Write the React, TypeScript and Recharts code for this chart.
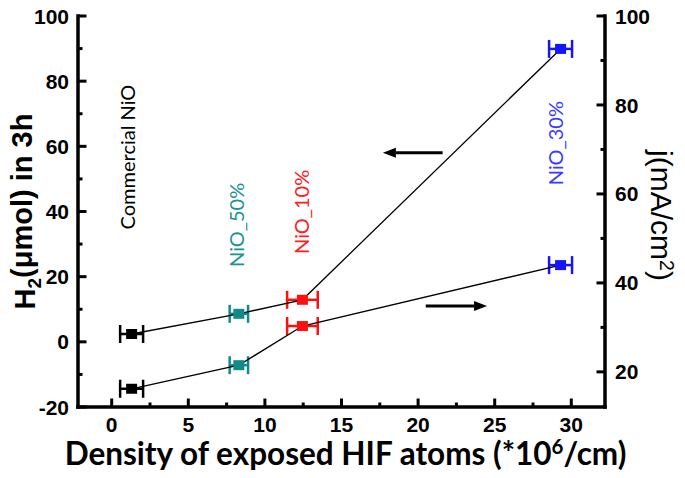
import {
  ComposedChart,
  XAxis,
  YAxis,
  Scatter,
  ErrorBar,
  ReferenceDot,
  ReferenceLine,
  Label,
} from "recharts";

const samples = ["Commercial NiO", "NiO_50%", "NiO_10%", "NiO_30%"];
const density = [1.3, 8.3, 12.45, 29.3];
const densityErr = [0.75, 0.6, 1.0, 0.75];
const h2 = [2.4, 8.6, 12.9, 89.9];
const currentJ = [16.2, 21.5, 30.3, 44.0];

const xTicks = [0, 2.5, 5, 7.5, 10, 12.5, 15, 17.5, 20, 22.5, 25, 27.5, 30];
const leftTicks = [-20, -10, 0, 10, 20, 30, 40, 50, 60, 70, 80, 90, 100];
const rightTicks = [20, 30, 40, 50, 60, 70, 80, 90, 100];

// where the sample names sit (x, H2 value)
const labelX = [1.05, 8.15, 12.45, 29.0];
const labelY = [56.7, 35.9, 39.9, 61];

const colors = ["#000000", "#108a8a", "#ff1010", "#1414ff"];
const labelColors = ["#000000", "#199494", "#ff2020", "#3c3cff"];

const M = 8;
const tickFont = { fontFamily: "Liberation Sans, Arial", fontWeight: 700, fontSize: 21 };

const h2Data = density.map((x, i) => ({ x, y: h2[i], ex: densityErr[i] }));
const jData = density.map((x, i) => ({ x, y: currentJ[i], ex: densityErr[i] }));

function LeftTick(p: any) {
  const ax = p.x + M;
  const v = p.payload.value;
  const major = v % 20 === 0;
  return (
    <g>
      <line x1={ax} x2={ax + (major ? 8.5 : 4.5)} y1={p.y} y2={p.y} stroke="#000" strokeWidth={3} />
      {major && (
        <text x={ax - 9} y={p.y} dy="0.36em" textAnchor="end" {...tickFont}>
          {v}
        </text>
      )}
    </g>
  );
}

function RightTick(p: any) {
  const ax = p.x - M;
  const v = p.payload.value;
  const major = v % 20 === 0;
  return (
    <g>
      <line x1={ax} x2={ax - (major ? 8.5 : 4.5)} y1={p.y} y2={p.y} stroke="#000" strokeWidth={3} />
      {major && (
        <text x={ax + 10} y={p.y} dy="0.36em" textAnchor="start" {...tickFont}>
          {v}
        </text>
      )}
    </g>
  );
}

function BottomTick(p: any) {
  const ay = p.y - M;
  const v = p.payload.value;
  const major = v % 5 === 0;
  return (
    <g>
      <line x1={p.x} x2={p.x} y1={ay} y2={ay - (major ? 8.5 : 4.5)} stroke="#000" strokeWidth={3} />
      {major && (
        <text x={p.x} y={ay + 25} textAnchor="middle" {...tickFont}>
          {v}
        </text>
      )}
    </g>
  );
}

function Square(color: string) {
  return (p: any) => <rect x={p.cx - 5.5} y={p.cy - 5} width={11} height={10} fill={color} />;
}

function Arrow(p: any) {
  const { x1, y1, x2, y2 } = p;
  const dir = x2 > x1 ? 1 : -1;
  const hx = x2 - dir * 13;
  return (
    <g>
      <line x1={x1} y1={y1} x2={hx} y2={y2} stroke="#000" strokeWidth={3} />
      <polygon points={`${x2},${y2} ${hx},${y2 - 5} ${hx},${y2 + 5}`} fill="#000" />
    </g>
  );
}

export default function App() {
  return (
    <div style={{ position: "absolute", left: 0, top: 0 }}>
      <ComposedChart width={685} height={478} margin={{ top: 16, right: 0, bottom: 0, left: 0 }}>
        <XAxis
          xAxisId="top"
          orientation="top"
          type="number"
          domain={[0, 1]}
          height={0}
          tick={false}
          tickLine={false}
          axisLine={{ stroke: "#000", strokeWidth: 3.5 }}
        />
        <XAxis
          dataKey="x"
          type="number"
          domain={[-2.2, 32.2]}
          allowDataOverflow
          ticks={xTicks}
          interval={0}
          height={71}
          tickSize={0}
          tickMargin={M}
          tickLine={false}
          tick={(p: any) => <BottomTick {...p} />}
          axisLine={{ stroke: "#000", strokeWidth: 3.5, strokeLinecap: "square" }}
        >
          <Label
            content={(p: any) => {
              const vb = p.viewBox;
              return (
                <text
                  x={vb.x + vb.width / 2 + 4}
                  y={vb.y + 58}
                  textAnchor="middle"
                  fontFamily="Lato"
                  fontWeight={700}
                  fontSize={31.5}
                  fill="#000"
                >
                  Density of exposed HIF atoms (*10
                  <tspan fontSize="0.65em" dy="-0.55em">6</tspan>
                  <tspan dy="0.36em">/cm)</tspan>
                </text>
              );
            }}
          />
        </XAxis>
        <YAxis
          yAxisId="left"
          dataKey="y"
          type="number"
          domain={[-20, 100]}
          allowDataOverflow
          ticks={leftTicks}
          interval={0}
          width={78}
          tickSize={0}
          tickMargin={M}
          tickLine={false}
          tick={(p: any) => <LeftTick {...p} />}
          axisLine={{ stroke: "#000", strokeWidth: 3.5, strokeLinecap: "square" }}
        >
          <Label
            content={(p: any) => {
              const vb = p.viewBox;
              const cx = 25;
              const cy = vb.y + vb.height / 2;
              return (
                <text
                  x={cx}
                  y={cy}
                  transform={`rotate(-90 ${cx} ${cy})`}
                  dy="0.35em"
                  textAnchor="middle"
                  fontFamily="Liberation Sans, Arial"
                  fontWeight={700}
                  fontSize={29}
                  fill="#000"
                >
                  H<tspan fontSize="0.65em" dy="0.3em">2</tspan>
                  <tspan dy="-0.3em">(μmol) in 3h</tspan>
                </text>
              );
            }}
          />
        </YAxis>
        <YAxis
          yAxisId="right"
          dataKey="y"
          orientation="right"
          type="number"
          domain={[12.1, 100]}
          allowDataOverflow
          ticks={rightTicks}
          interval={0}
          width={80}
          tickSize={0}
          tickMargin={M}
          tickLine={false}
          tick={(p: any) => <RightTick {...p} />}
          axisLine={{ stroke: "#000", strokeWidth: 3.5, strokeLinecap: "square" }}
        >
          <Label
            content={(p: any) => {
              const vb = p.viewBox;
              const cx = vb.x + 56;
              const cy = vb.y + vb.height / 2 + 4;
              return (
                <text
                  x={cx}
                  y={cy}
                  transform={`rotate(90 ${cx} ${cy})`}
                  dy="0.35em"
                  textAnchor="middle"
                  fontFamily="Liberation Sans, Arial"
                  fontSize={30}
                  fill="#000"
                >
                  j(mA/cm<tspan fontSize="0.65em" dy="-0.5em">2</tspan>
                  <tspan dy="0.32em">)</tspan>
                </text>
              );
            }}
          />
        </YAxis>

        <Scatter
          yAxisId="left"
          dataKey="y"
          data={h2Data}
          line={{ stroke: "#000", strokeWidth: 1.3 }}
          shape={() => <g />}
          isAnimationActive={false}
        />
        <Scatter
          yAxisId="right"
          dataKey="y"
          data={jData}
          line={{ stroke: "#000", strokeWidth: 1.3 }}
          shape={() => <g />}
          isAnimationActive={false}
        />

        {samples.map((s, i) => (
          <Scatter
            key={"h" + s}
            yAxisId="left"
            dataKey="y"
            data={[h2Data[i]]}
            shape={Square(colors[i])}
            isAnimationActive={false}
          >
            <ErrorBar dataKey="ex" direction="x" width={9} stroke={colors[i]} strokeWidth={2.5} isAnimationActive={false} />
          </Scatter>
        ))}
        {samples.map((s, i) => (
          <Scatter
            key={"j" + s}
            yAxisId="right"
            dataKey="y"
            data={[jData[i]]}
            shape={Square(colors[i])}
            isAnimationActive={false}
          >
            <ErrorBar dataKey="ex" direction="x" width={9} stroke={colors[i]} strokeWidth={2.5} isAnimationActive={false} />
          </Scatter>
        ))}

        {samples.map((s, i) => (
          <ReferenceDot
            key={"l" + s}
            yAxisId="left"
            x={labelX[i]}
            y={labelY[i]}
            r={0}
            shape={(p: any) => (
              <text
                x={p.cx}
                y={p.cy}
                transform={`rotate(-90 ${p.cx} ${p.cy})`}
                dy="0.35em"
                textAnchor="middle"
                fontFamily="Lato"
                fontSize={20}
                fill={labelColors[i]}
              >
                {s}
              </text>
            )}
          />
        ))}

        <ReferenceLine
          yAxisId="left"
          segment={[
            { x: 21.6, y: 58 },
            { x: 17.7, y: 58 },
          ]}
          shape={(p: any) => <Arrow {...p} />}
        />
        <ReferenceLine
          yAxisId="left"
          segment={[
            { x: 20.5, y: 11 },
            { x: 24.5, y: 11 },
          ]}
          shape={(p: any) => <Arrow {...p} />}
        />
      </ComposedChart>
    </div>
  );
}
